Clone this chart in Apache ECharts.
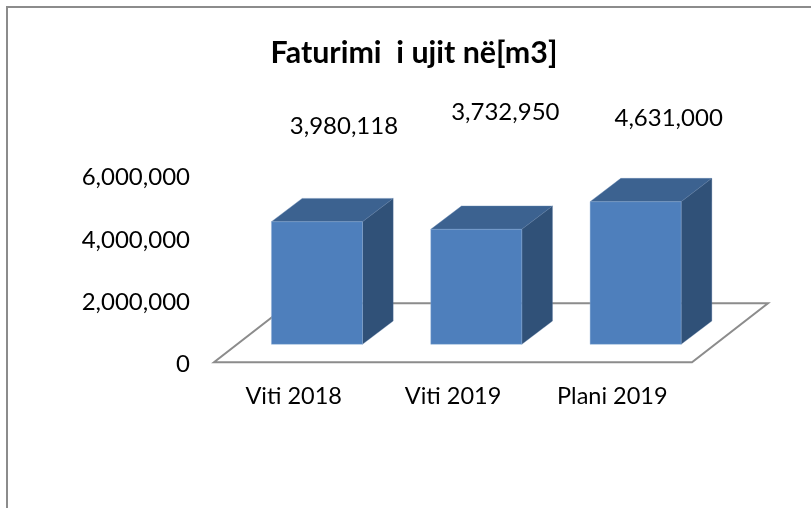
<!DOCTYPE html>
<html><head><meta charset="utf-8">
<style>html,body{margin:0;padding:0;background:#fff}#c{width:811px;height:508px}</style>
<script src="https://cdn.jsdelivr.net/npm/echarts@6/dist/echarts.min.js"></script>
</head><body><div id="c"></div>
<script>
const titleText = 'Faturimi  i ujit në[m3]';
const categories = ['Viti 2018', 'Viti 2019', 'Plani 2019'];
const values = [3980118, 3732950, 4631000];
const FONT = 'Lato, "Open Sans", sans-serif';
// layout only: hand-placed label offsets from each bar's top-centre (as in the source chart)
const labelNudge = [[27, -95], [29, -117], [33, -83]];
const DEPTH = [30.7, -23.3];
const FLOOR = [76, -59];
const chart = echarts.init(document.getElementById('c'), null, {renderer: 'canvas'});
function fmt(v){return echarts.format.addCommas(v);}
chart.setOption({
  animation: false,
  backgroundColor: '#fff',
  textStyle: {fontFamily: FONT},
  title: {text: titleText, left: 409, top: 33, textAlign: 'center',
    textStyle: {fontFamily: FONT, fontSize: 30.4, fontWeight: 'bold', color: '#000'}},
  graphic: [{type: 'polyline', silent: true, shape: {points: [[7, 508], [7, 7], [811, 7]]},
    style: {stroke: '#8c8c8c', lineWidth: 2, fill: 'none'}}],
  grid: [
    {left: 214, width: 478, top: 177.5, height: 187},
    {left: 237.3, width: 478, top: 159.5, height: 184.8}
  ],
  xAxis: [
    {type: 'category', gridIndex: 0, data: categories, axisTick: {show: false},
      axisLine: {show: false},
      axisLabel: {fontFamily: FONT, fontSize: 23.5, color: '#000', margin: 20}},
    {type: 'category', gridIndex: 1, data: categories, show: false}
  ],
  yAxis: [
    {type: 'value', gridIndex: 0, min: 0, max: 6000000, interval: 2000000,
      axisLine: {show: false}, axisTick: {show: false}, splitLine: {show: false},
      axisLabel: {fontFamily: FONT, fontSize: 24, color: '#000', margin: 24,
        formatter: v => fmt(v)}},
    {type: 'value', gridIndex: 1, min: 0, max: 6000000, interval: 2000000, show: false, splitLine: {show: false}}
  ],
  series: [
    {type: 'custom', xAxisIndex: 0, yAxisIndex: 0, silent: true, z: 1,
      data: [[0, 0]],
      renderItem(p, api) {
        const s = p.coordSys, bx = s.x, by = s.y + s.height - 2.2, w = s.width;
        return {type: 'polygon', shape: {points: [
          [bx, by], [bx + w, by], [bx + w + FLOOR[0], by + FLOOR[1]], [bx + FLOOR[0], by + FLOOR[1]]
        ]}, style: {fill: '#fff', stroke: '#8c8c8c', lineWidth: 2}};
      }},
    {type: 'custom', xAxisIndex: 1, yAxisIndex: 1, silent: true, z: 2,
      encode: {x: 0, y: 1},
      data: values.map((v, i) => [i, v]),
      renderItem(p, api) {
        const i = api.value(0), v = api.value(1);
        const top = api.coord([i, v]), base = api.coord([i, 0]);
        const hw = api.size([1, 0])[0] * 0.2857;
        const l = top[0] - hw, r = top[0] + hw, t = top[1], b = base[1];
        const dx = DEPTH[0], dy = DEPTH[1];
        return {type: 'group', children: [
          {type: 'polygon', shape: {points: [[l, t], [r, t], [r + dx, t + dy], [l + dx, t + dy]]},
            style: {fill: '#3c6290', stroke: '#5f84b0', lineWidth: 0.4}},
          {type: 'polygon', shape: {points: [[r, t], [r + dx, t + dy], [r + dx, b + dy], [r, b]]},
            style: {fill: '#305178', stroke: '#5f7fa5', lineWidth: 0.3}},
          {type: 'rect', shape: {x: l, y: t, width: r - l, height: b - t},
            style: {fill: '#4e7fbc', stroke: '#8fb0d8', lineWidth: 0.4}},
          {type: 'text', style: {text: fmt(v), x: top[0] + labelNudge[i][0], y: t + labelNudge[i][1],
            align: 'center', verticalAlign: 'middle', fill: '#000',
            font: '24px ' + FONT}}
        ]};
      }}
  ]
});
</script></body></html>
